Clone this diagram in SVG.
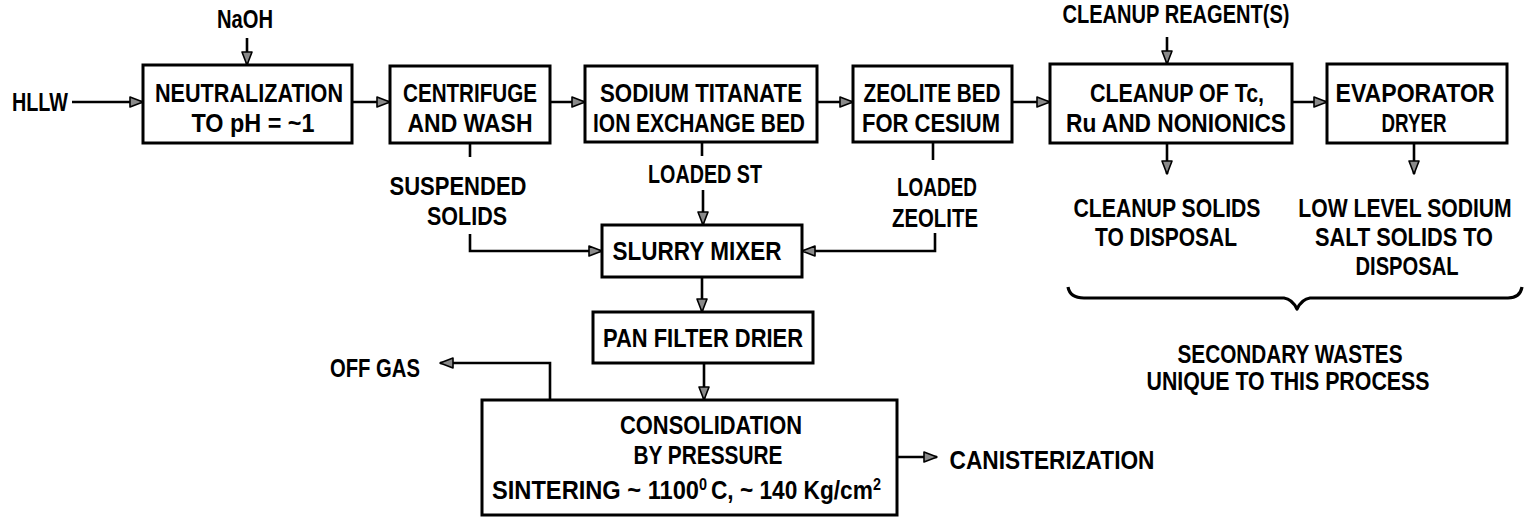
<svg xmlns="http://www.w3.org/2000/svg" width="1528" height="519" viewBox="0 0 1528 519">
<style>
  .box { fill: #fff; stroke: #000; stroke-width: 3; }
  .t { font-family: "Liberation Sans", Arial, sans-serif; font-weight: bold; font-size: 26px; fill: #000; text-anchor: middle; }
  .s { text-anchor: start; }
  .sup { font-size: 16px; }
  .c { fill: none; stroke: #000; stroke-width: 2.6; }
  .a { marker-end: url(#ah); }
  .brace { fill: none; stroke: #000; stroke-width: 3.2; stroke-linejoin: round; }
</style>
<defs>
  <marker id="ah" markerUnits="userSpaceOnUse" markerWidth="16" markerHeight="14" refX="14" refY="6" orient="auto">
    <path d="M1,1 L14,6 L1,11 z" fill="#8a8a8a" stroke="#000" stroke-width="1.6" stroke-linejoin="round"/>
  </marker>
</defs>
<rect width="1528" height="519" fill="#fff"/>

<g id="connectors">
  <line class="c a" x1="72" y1="102" x2="143" y2="102"/>
  <line class="c a" x1="352" y1="102" x2="390" y2="102"/>
  <line class="c a" x1="550" y1="102" x2="585" y2="102"/>
  <line class="c a" x1="817" y1="102" x2="853" y2="102"/>
  <line class="c a" x1="1012" y1="102" x2="1050" y2="102"/>
  <line class="c a" x1="1292" y1="102" x2="1327" y2="102"/>
  <line class="c a" x1="247" y1="38" x2="247" y2="65"/>
  <line class="c a" x1="1167" y1="37" x2="1167" y2="64"/>
  <line class="c a" x1="1167" y1="143" x2="1167" y2="174"/>
  <line class="c a" x1="1414" y1="143" x2="1414" y2="174"/>
  <line class="c" x1="470" y1="143" x2="470" y2="157"/>
  <path class="c a" d="M470,234 V251 H602"/>
  <line class="c" x1="702" y1="142" x2="702" y2="156"/>
  <line class="c a" x1="703" y1="190" x2="703" y2="225"/>
  <line class="c" x1="933" y1="142" x2="933" y2="160"/>
  <path class="c a" d="M935,233 V251 H802"/>
  <line class="c a" x1="702" y1="277" x2="702" y2="312"/>
  <line class="c a" x1="704" y1="363" x2="704" y2="400"/>
  <path class="c a" d="M550,400 V363 H440"/>
  <line class="c a" x1="897" y1="457" x2="937" y2="457"/>
  <path class="brace" d="M1068,287 Q1070,298 1084,298 L1284,298 Q1292,299 1297,309 Q1302,299 1310,298 L1508,298 Q1520,298 1522,287"/>
</g>

<g id="hllw"><text class="t" x="40" y="111" textLength="56" lengthAdjust="spacingAndGlyphs">HLLW</text></g>
<g id="naoh"><text class="t" x="245" y="28" textLength="56" lengthAdjust="spacingAndGlyphs">NaOH</text></g>
<g id="reagent"><text class="t" x="1176" y="23" textLength="227" lengthAdjust="spacingAndGlyphs">CLEANUP REAGENT(S)</text></g>

<g id="neutralization">
  <rect class="box" x="143" y="65" width="209" height="78"/>
  <text class="t" x="249" y="102" textLength="188" lengthAdjust="spacingAndGlyphs">NEUTRALIZATION</text>
  <text class="t" x="253" y="132" textLength="123" lengthAdjust="spacingAndGlyphs">TO pH = ~1</text>
</g>
<g id="centrifuge">
  <rect class="box" x="390" y="66" width="160" height="77"/>
  <text class="t" x="470" y="102" textLength="134" lengthAdjust="spacingAndGlyphs">CENTRIFUGE</text>
  <text class="t" x="470" y="132" textLength="125" lengthAdjust="spacingAndGlyphs">AND WASH</text>
</g>
<g id="sodium-titanate">
  <rect class="box" x="585" y="66" width="232" height="76"/>
  <text class="t" x="701" y="102" textLength="202" lengthAdjust="spacingAndGlyphs">SODIUM TITANATE</text>
  <text class="t" x="699" y="132" textLength="212" lengthAdjust="spacingAndGlyphs">ION EXCHANGE BED</text>
</g>
<g id="zeolite-bed">
  <rect class="box" x="853" y="66" width="159" height="76"/>
  <text class="t" x="932" y="102" textLength="137" lengthAdjust="spacingAndGlyphs">ZEOLITE BED</text>
  <text class="t" x="931" y="132" textLength="138" lengthAdjust="spacingAndGlyphs">FOR CESIUM</text>
</g>
<g id="cleanup">
  <rect class="box" x="1050" y="64" width="242" height="79"/>
  <text class="t" x="1177" y="102" textLength="174" lengthAdjust="spacingAndGlyphs">CLEANUP OF Tc,</text>
  <text class="t" x="1176" y="132" textLength="220" lengthAdjust="spacingAndGlyphs">Ru AND NONIONICS</text>
</g>
<g id="evaporator">
  <rect class="box" x="1327" y="64" width="180" height="79"/>
  <text class="t" x="1415" y="102" textLength="159" lengthAdjust="spacingAndGlyphs">EVAPORATOR</text>
  <text class="t" x="1414" y="132" textLength="65" lengthAdjust="spacingAndGlyphs">DRYER</text>
</g>

<g id="suspended-solids">
  <text class="t" x="458" y="195" textLength="137" lengthAdjust="spacingAndGlyphs">SUSPENDED</text>
  <text class="t" x="467" y="225" textLength="80" lengthAdjust="spacingAndGlyphs">SOLIDS</text>
</g>
<g id="loaded-st"><text class="t" x="705" y="183" textLength="114" lengthAdjust="spacingAndGlyphs">LOADED ST</text></g>
<g id="loaded-zeolite">
  <text class="t" x="937" y="196" textLength="80" lengthAdjust="spacingAndGlyphs">LOADED</text>
  <text class="t" x="935" y="227" textLength="86" lengthAdjust="spacingAndGlyphs">ZEOLITE</text>
</g>

<g id="slurry-mixer">
  <rect class="box" x="602" y="225" width="200" height="52"/>
  <text class="t" x="697" y="260" textLength="169" lengthAdjust="spacingAndGlyphs">SLURRY MIXER</text>
</g>
<g id="pan-filter">
  <rect class="box" x="593" y="312" width="220" height="51"/>
  <text class="t" x="703" y="347" textLength="200" lengthAdjust="spacingAndGlyphs">PAN FILTER DRIER</text>
</g>
<g id="consolidation">
  <rect class="box" x="482" y="400" width="415" height="115"/>
  <text class="t" x="711" y="434" textLength="182" lengthAdjust="spacingAndGlyphs">CONSOLIDATION</text>
  <text class="t" x="708" y="464" textLength="149" lengthAdjust="spacingAndGlyphs">BY PRESSURE</text>
  <text class="t s" transform="translate(492,499) scale(0.91,1)" x="0" y="0">SINTERING ~ 1100</text>
  <text class="t s sup" transform="translate(699,490) scale(0.9,1)" x="0" y="0">0</text>
  <text class="t s" transform="translate(711,499) scale(0.872,1)" x="0" y="0">C, ~ 140 Kg/cm</text>
  <text class="t s sup" transform="translate(873,490) scale(0.9,1)" x="0" y="0">2</text>
</g>

<g id="off-gas"><text class="t" x="375" y="377" textLength="90" lengthAdjust="spacingAndGlyphs">OFF GAS</text></g>
<g id="canisterization"><text class="t" x="1052" y="469" textLength="205" lengthAdjust="spacingAndGlyphs">CANISTERIZATION</text></g>

<g id="cleanup-solids">
  <text class="t" x="1167" y="217" textLength="187" lengthAdjust="spacingAndGlyphs">CLEANUP SOLIDS</text>
  <text class="t" x="1166" y="246" textLength="142" lengthAdjust="spacingAndGlyphs">TO DISPOSAL</text>
</g>
<g id="low-level">
  <text class="t" transform="translate(1405,217) scale(0.814,1)" x="0" y="0">LOW LEVEL SODIUM</text>
  <text class="t" x="1404" y="246" textLength="178" lengthAdjust="spacingAndGlyphs">SALT SOLIDS TO</text>
  <text class="t" x="1407" y="275" textLength="103" lengthAdjust="spacingAndGlyphs">DISPOSAL</text>
</g>
<g id="secondary-wastes">
  <text class="t" x="1290" y="363" textLength="225" lengthAdjust="spacingAndGlyphs">SECONDARY WASTES</text>
  <text class="t" x="1288" y="390" textLength="283" lengthAdjust="spacingAndGlyphs">UNIQUE TO THIS PROCESS</text>
</g>
</svg>
